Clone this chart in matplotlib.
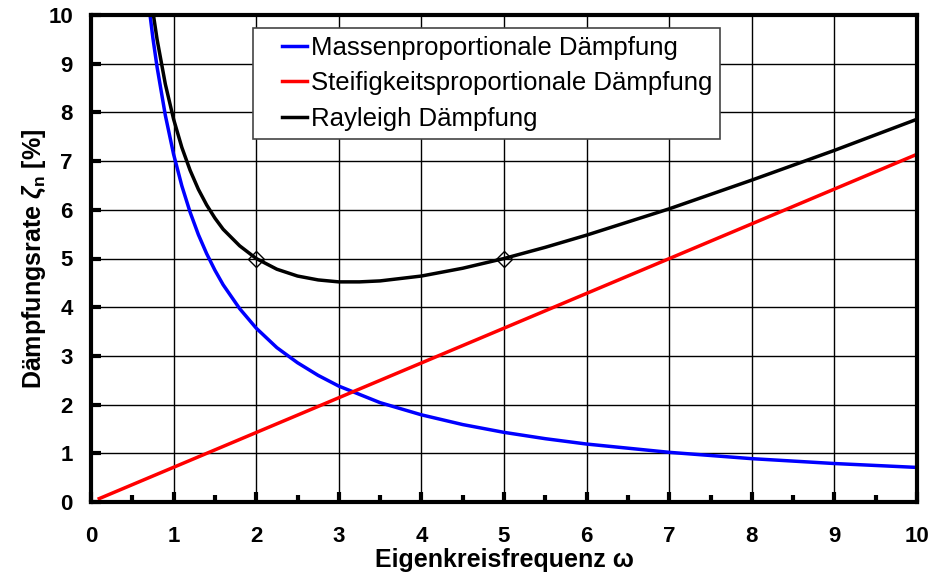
import matplotlib
matplotlib.use("Agg")
import matplotlib.pyplot as plt
from matplotlib.ticker import MultipleLocator
from matplotlib.legend_handler import HandlerLine2D

plt.rcParams['font.family'] = ['Liberation Sans', 'DejaVu Sans']
plt.rcParams['mathtext.fontset'] = 'custom'
plt.rcParams['mathtext.rm'] = 'Liberation Sans:bold'
plt.rcParams['mathtext.it'] = 'Liberation Sans:bold:italic'
plt.rcParams['mathtext.bf'] = 'Liberation Sans:bold'

# Data
omega_mass = [0.70, 0.75, 0.8, 0.9, 1.0, 1.1, 1.2, 1.3, 1.4, 1.5, 1.6, 1.8, 2.0, 2.25, 2.5,
              2.75, 3.0, 3.5, 4.0, 4.5, 5.0, 5.5, 6.0, 7.0, 8.0, 9.0, 10.0]
zeta_mass = [10.20, 9.52, 8.93, 7.94, 7.14, 6.49, 5.95, 5.49, 5.10, 4.76, 4.46, 3.97, 3.57, 3.17, 2.86,
             2.60, 2.38, 2.04, 1.79, 1.59, 1.43, 1.30, 1.19, 1.02, 0.89, 0.79, 0.71]

omega_stiff = [0.1, 10.0]
zeta_stiff = [0.07, 7.14]

omega_ray = [0.74, 0.8, 0.9, 1.0, 1.1, 1.2, 1.3, 1.4, 1.5, 1.6, 1.8, 2.0, 2.25, 2.5, 2.75,
             3.0, 3.25, 3.5, 4.0, 4.5, 5.0, 5.5, 6.0, 7.0, 8.0, 9.0, 10.0]
zeta_ray = [10.18, 9.50, 8.58, 7.86, 7.28, 6.81, 6.42, 6.10, 5.83, 5.60, 5.26, 5.00, 4.78, 4.64, 4.56,
            4.52, 4.52, 4.54, 4.64, 4.80, 5.00, 5.23, 5.48, 6.02, 6.61, 7.22, 7.86]

omega_marks = [2.0, 5.0]
zeta_marks = [5.0, 5.0]

labels = ["Massenproportionale Dämpfung", "Steifigkeitsproportionale Dämpfung", "Rayleigh Dämpfung"]


class ShortLineHandler(HandlerLine2D):
    """Draw the legend line only in the right part of the handle box."""
    def create_artists(self, legend, orig_handle, xdescent, ydescent, width, height,
                       fontsize, trans):
        artists = super().create_artists(legend, orig_handle, xdescent, ydescent, width,
                                         height, fontsize, trans)
        line = artists[0]
        xd = list(line.get_xdata())
        yd = list(line.get_ydata())
        x0, x1 = xd[0], xd[-1]
        line.set_data([x0 + 0.46 * (x1 - x0), x1], [yd[0], yd[0]])
        return artists


fig = plt.figure(figsize=(9.48, 5.79), dpi=100)
ax = fig.add_axes([91/948, 1 - 502/579, (917-91)/948, (502-15)/579])

l1, = ax.plot(omega_mass, zeta_mass, color='#0000ff', lw=2.5, label=labels[0], zorder=3)
l2, = ax.plot(omega_stiff, zeta_stiff, color='#ff0000', lw=2.5, label=labels[1], zorder=3)
l3, = ax.plot(omega_ray, zeta_ray, color='black', lw=2.5, label=labels[2], zorder=3)
ax.plot(omega_marks, zeta_marks, linestyle='none', marker='D', markersize=8,
        markerfacecolor='none', markeredgecolor='black', markeredgewidth=1.0, zorder=4)

ax.set_xlim(0, 10)
ax.set_ylim(0, 10)
ax.xaxis.set_major_locator(MultipleLocator(1))
ax.xaxis.set_minor_locator(MultipleLocator(0.5))
ax.yaxis.set_major_locator(MultipleLocator(1))
ax.grid(True, which='major', color='black', lw=1.0)
ax.set_axisbelow(True)

for s in ax.spines.values():
    s.set_linewidth(3)
    s.set_zorder(5)

ax.tick_params(axis='both', which='major', direction='in', length=7, width=3,
               labelsize=16)
ax.tick_params(axis='y', which='major', pad=13)
ax.tick_params(axis='x', which='minor', direction='in', length=5, width=3)
ax.tick_params(axis='x', which='major', pad=17)
for lbl in ax.get_xticklabels() + ax.get_yticklabels():
    lbl.set_fontweight('bold')

ax.set_xlabel("Eigenkreisfrequenz ω", fontsize=18, fontweight='bold', labelpad=1)
ax.set_ylabel(r"Dämpfungsrate $\zeta_\mathregular{n}$ [%]", fontsize=18, fontweight='bold',
              labelpad=0)

hm = {l: ShortLineHandler() for l in (l1, l2, l3)}
leg = ax.legend(handles=[l1, l2, l3], handler_map=hm,
                loc='upper left', bbox_to_anchor=((253-91)/826, (502-28)/487),
                fontsize=18.5, frameon=True, fancybox=False, borderpad=0.3,
                handlelength=1.8, handletextpad=0.16, labelspacing=0.45, borderaxespad=0)
leg.get_frame().set_edgecolor('#444444')
leg.get_frame().set_linewidth(1.2)
leg.get_frame().set_alpha(1)
leg.set_zorder(6)

fig.savefig("out.png", dpi=100)
